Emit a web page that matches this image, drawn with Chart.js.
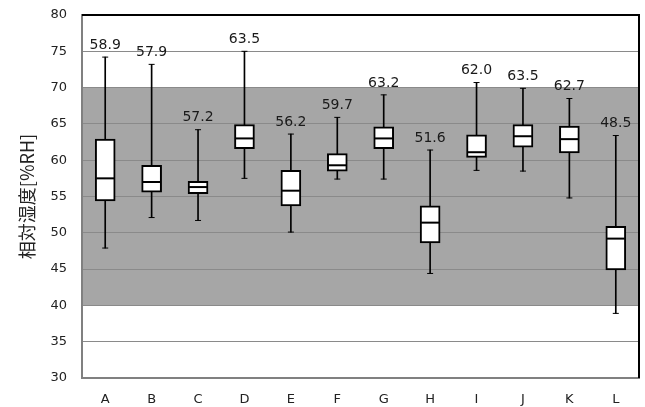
<!DOCTYPE html>
<html>
<head>
<meta charset="utf-8">
<script src="https://cdn.jsdelivr.net/npm/chart.js@4/dist/chart.umd.min.js"></script>
<style>
  html, body { margin: 0; padding: 0; background: #ffffff; }
  #wrap { width: 645px; height: 407px; }
</style>
</head>
<body>
<div id="wrap"><canvas id="c" width="645" height="407"></canvas></div>
<script>
// Relative humidity by location: whiskers, quartiles, median and mean
const categories = ['A', 'B', 'C', 'D', 'E', 'F', 'G', 'H', 'I', 'J', 'K', 'L'];
const whiskerLow  = [47.9, 52.1, 51.7, 57.5, 50.1, 57.4, 57.4, 44.4, 58.6, 58.5, 54.8, 38.9];
const q1          = [54.4, 55.6, 55.4, 61.6, 53.7, 58.5, 61.6, 48.6, 60.4, 61.8, 61.0, 44.9];
const median      = [57.5, 57.0, 56.3, 63.0, 55.8, 59.3, 63.0, 51.4, 61.1, 63.3, 62.9, 49.2];
const q3          = [62.9, 59.3, 57.1, 64.9, 58.6, 60.9, 64.6, 53.7, 63.5, 64.9, 64.7, 50.9];
const whiskerHigh = [74.2, 73.2, 64.2, 75.0, 63.6, 65.9, 69.0, 61.4, 70.7, 69.9, 68.5, 63.4];
const means       = [58.9, 57.9, 57.2, 63.5, 56.2, 59.7, 63.2, 51.6, 62.0, 63.5, 62.7, 48.5];
const yTicks = [30, 35, 40, 45, 50, 55, 60, 65, 70, 75, 80];
const band = [40, 70];   // shaded comfort range
const yTitle = '相対湿度[%RH]';

const LABEL_FONT = '"DejaVu Sans", Verdana, sans-serif';

// shaded range behind the grid
const bandPlugin = {
  id: 'band',
  beforeDraw(chart) {
    const { ctx, chartArea: a, scales: { y } } = chart;
    ctx.save();
    ctx.fillStyle = '#ffffff';
    ctx.fillRect(0, 0, chart.width, chart.height);
    const top = y.getPixelForValue(band[1]);
    const bot = y.getPixelForValue(band[0]);
    ctx.fillStyle = '#a6a6a6';
    ctx.fillRect(a.left, top, a.right - a.left, bot - top);
    ctx.restore();
  }
};

// top / right frame of the plot area
const framePlugin = {
  id: 'frame',
  afterDraw(chart) {
    const { ctx, chartArea: a } = chart;
    ctx.save();
    ctx.strokeStyle = '#000000';
    ctx.lineWidth = 2;
    ctx.beginPath();
    ctx.moveTo(a.left, a.top);
    ctx.lineTo(a.right, a.top);
    ctx.lineTo(a.right, a.bottom);
    ctx.stroke();
    ctx.restore();
  }
};

// mean value written above each upper whisker
const meanLabelPlugin = {
  id: 'meanLabels',
  afterDatasetsDraw(chart) {
    const { ctx, scales: { x, y } } = chart;
    ctx.save();
    ctx.font = '14px ' + LABEL_FONT;
    ctx.fillStyle = '#1a1a1a';
    ctx.textAlign = 'center';
    ctx.textBaseline = 'middle';
    categories.forEach((c, i) => {
      const px = x.getPixelForValue(i);
      const py = y.getPixelForValue(whiskerHigh[i]) - 12;
      ctx.fillText(means[i].toFixed(1), px, py);
    });
    ctx.restore();
  }
};

new Chart(document.getElementById('c'), {
  data: {
    labels: categories,
    datasets: [
      {
        type: 'bar',
        label: 'whisker',
        data: categories.map((c, i) => [whiskerLow[i], whiskerHigh[i]]),
        backgroundColor: '#000000',
        borderWidth: 0,
        barThickness: 1,
        grouped: false,
        order: 3
      },
      {
        type: 'bar',
        label: 'box',
        data: categories.map((c, i) => [q1[i], q3[i]]),
        backgroundColor: '#ffffff',
        borderColor: '#000000',
        borderWidth: 2,
        borderSkipped: false,
        barThickness: 20,
        grouped: false,
        order: 2
      },
      {
        type: 'line',
        label: 'median',
        data: median,
        showLine: false,
        pointStyle: 'line',
        pointRadius: 9,
        pointBorderWidth: 2,
        pointBorderColor: '#000000',
        order: 1
      },
      {
        type: 'line',
        label: 'capHigh',
        data: whiskerHigh,
        showLine: false,
        pointStyle: 'line',
        pointRadius: 3,
        pointBorderWidth: 1,
        pointBorderColor: '#000000',
        order: 1
      },
      {
        type: 'line',
        label: 'capLow',
        data: whiskerLow,
        showLine: false,
        pointStyle: 'line',
        pointRadius: 3,
        pointBorderWidth: 1,
        pointBorderColor: '#000000',
        order: 1
      }
    ]
  },
  options: {
    responsive: false,
    animation: false,
    events: [],
    layout: { autoPadding: false, padding: { top: 15, right: 6, left: 0, bottom: 0 } },
    plugins: {
      legend: { display: false },
      tooltip: { enabled: false }
    },
    scales: {
      x: {
        type: 'category',
        grid: { display: false, drawTicks: false },
        border: { color: '#808080', width: 2 },
        ticks: {
          padding: 14,
          color: '#222222',
          font: { family: LABEL_FONT, size: 13 }
        },
        afterFit(s) { s.height = 29; }
      },
      y: {
        min: 30,
        max: 80,
        afterBuildTicks(s) { s.ticks = yTicks.map(v => ({ value: v })); },
        grid: { color: '#8a8a8a', lineWidth: 1, drawTicks: false },
        border: { color: '#808080', width: 2 },
        ticks: {
          padding: 15,
          color: '#222222',
          font: { family: LABEL_FONT, size: 13 }
        },
        title: {
          display: true,
          text: yTitle,
          color: '#222222',
          padding: { top: 16, bottom: 0 },
          font: { family: '"Noto Sans CJK JP", sans-serif', size: 18 }
        },
        afterFit(s) {
          s.width = 82;
          s.paddingTop = 8;
          s.paddingBottom = 8;
        }
      }
    }
  },
  plugins: [bandPlugin, framePlugin, meanLabelPlugin]
});
</script>
</body>
</html>
